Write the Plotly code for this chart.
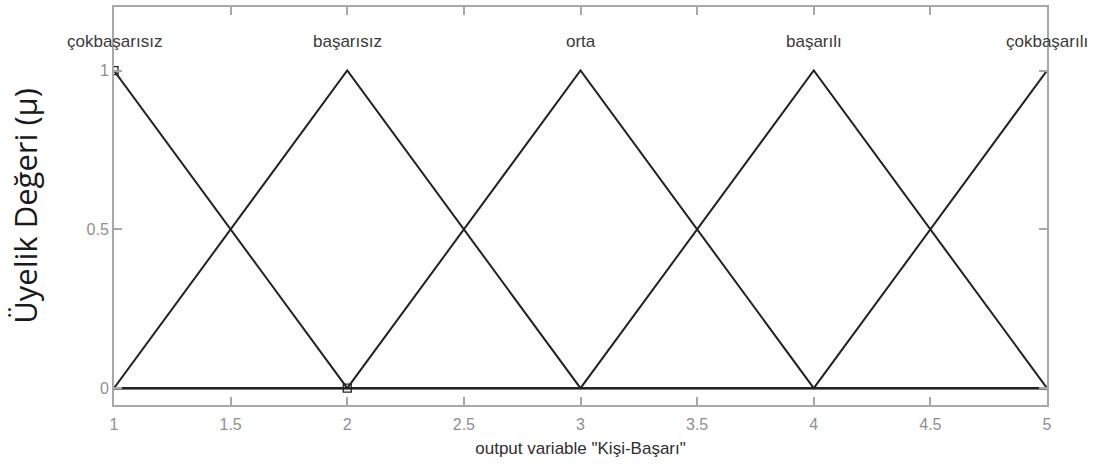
import plotly.graph_objects as go

x_range = [1, 5]
mf_names = ["çokbaşarısız", "başarısız", "orta", "başarılı", "çokbaşarılı"]
mf_a = [0, 1, 2, 3, 4]
mf_b = [1, 2, 3, 4, 5]
mf_c = [2, 3, 4, 5, 6]
sel_x = [1, 2]
sel_y = [1, 0]
x_ticks = [1, 1.5, 2, 2.5, 3, 3.5, 4, 4.5, 5]
y_ticks = [0, 0.5, 1]

def trimf(x, a, b, c):
    if x <= a or x >= c:
        return 0.0
    if x <= b:
        return (x - a) / (b - a)
    return (c - x) / (c - b)

fig = go.Figure()
for name, a, b, c in zip(mf_names, mf_a, mf_b, mf_c):
    pts = sorted(set([x_range[0], x_range[1]] + [p for p in (a, b, c) if x_range[0] <= p <= x_range[1]]))
    ys = [trimf(p, a, b, c) if p != b else 1.0 for p in pts]
    fig.add_trace(go.Scatter(x=pts, y=ys, mode="lines", line=dict(color="#222222", width=2),
                             showlegend=False, hoverinfo="skip"))
    fig.add_annotation(x=b, y=1.09, text=name, showarrow=False,
                       font=dict(family="Liberation Sans, Arial", size=17, color="#3a3a3a"),
                       xanchor="center", yanchor="middle")

fig.add_trace(go.Scatter(x=sel_x, y=sel_y, mode="markers",
                         marker=dict(symbol="square-open", size=8, color="#222222", line=dict(width=1.3)),
                         showlegend=False, hoverinfo="skip"))

axis_common = dict(showline=True, linecolor="#a8a8a8", linewidth=2, mirror="ticks",
                   ticks="inside", ticklen=8, tickwidth=1.5, tickcolor="#a8a8a8",
                   showgrid=False, zeroline=False,
                   tickfont=dict(family="Liberation Sans, Arial", size=16, color="#8f8f8f"))

fig.update_xaxes(range=x_range, tickvals=x_ticks, ticktext=[f"{v:g}" for v in x_ticks],
                 ticklabelstandoff=4,
                 title=dict(text='output variable "Kişi-Başarı"', standoff=10,
                            font=dict(family="Liberation Sans, Arial", size=17, color="#2e2e2e")),
                 **axis_common)
fig.update_yaxes(range=[-0.053, 1.2], tickvals=y_ticks, ticktext=[f"{v:g}" for v in y_ticks],
                 title=dict(text="Üyelik Değeri (µ)", standoff=40,
                            font=dict(family="Open Sans, Noto Sans", size=31, color="#1a1a1a")),
                 **axis_common)

fig.update_layout(width=1101, height=467, margin=dict(l=114, r=54, t=5, b=62),
                  plot_bgcolor="white", paper_bgcolor="white")

fig.write_html("out.html")
